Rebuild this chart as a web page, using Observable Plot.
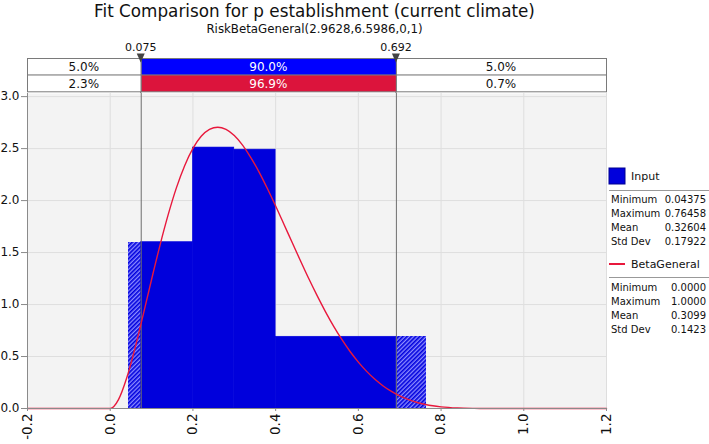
<!DOCTYPE html>
<html><head><meta charset="utf-8">
<script src="https://cdn.jsdelivr.net/npm/d3@7"></script>
<script src="https://cdn.jsdelivr.net/npm/@observablehq/plot@0.6"></script>
<style>html,body{margin:0;padding:0;background:#fff;} svg{display:block;}</style>
</head><body>
<script>
// ---------- data ----------
const chartTitle = "Fit Comparison for p establishment (current climate)";
const chartSubtitle = "RiskBetaGeneral(2.9628,6.5986,0,1)";
const xTicks = [-0.2, 0, 0.2, 0.4, 0.6, 0.8, 1.0, 1.2];
const yTicks = [0, 0.5, 1.0, 1.5, 2.0, 2.5, 3.0];

// histogram of the input (density)
const binLo = [0.04375, 0.2, 0.3, 0.4];
const binHi = [0.2, 0.3, 0.4, 0.76458];
const binDensity = [1.6, 2.51, 2.49, 0.69];

// delimiters
const lowerCut = 0.075;
const upperCut = 0.692;

// probability band rows (Input, BetaGeneral)
const bandLeft = ["5.0%", "2.3%"];
const bandMid = ["90.0%", "96.9%"];
const bandRight = ["5.0%", "0.7%"];

// fitted BetaGeneral density
const curveX = [-0.2, 0, 0.02, 0.04, 0.06, 0.08, 0.10, 0.12, 0.14, 0.16, 0.18, 0.20, 0.22, 0.24, 0.26, 0.28, 0.30, 0.32, 0.34, 0.36, 0.38, 0.40, 0.42, 0.44, 0.46, 0.48, 0.50, 0.52, 0.54, 0.56, 0.58, 0.60, 0.62, 0.64, 0.66, 0.68, 0.70, 0.72, 0.74, 0.76, 0.78, 0.80, 0.84, 0.88, 0.92, 1.0, 1.2];
const curveY = [0, 0, 0.085, 0.295, 0.581, 0.906, 1.241, 1.565, 1.862, 2.122, 2.336, 2.502, 2.618, 2.685, 2.706, 2.684, 2.625, 2.533, 2.414, 2.274, 2.116, 1.948, 1.773, 1.596, 1.421, 1.250, 1.088, 0.935, 0.793, 0.664, 0.548, 0.446, 0.357, 0.281, 0.217, 0.164, 0.121, 0.087, 0.060, 0.041, 0.026, 0.016, 0.005, 0.0013, 0.0002, 0, 0];

// legend
const legendSeries = ["Input", "BetaGeneral"];
const statNames = ["Minimum", "Maximum", "Mean", "Std Dev"];
const inputStats = ["0.04375", "0.76458", "0.32604", "0.17922"];
const fitStats = ["0.0000", "1.0000", "0.3099", "0.1423"];

// ---------- styles ----------
const FONT = "'DejaVu Sans', Verdana, sans-serif";
const C = {
  bar: "#0000dc", band1: "#0000ff", band2: "#dc143c", curve: "#e8183c",
  bg: "#f3f3f3", grid: "#dedede", axis: "#8a8a8a", cut: "#6e6e6e", border: "#7a7a7a"
};
const fmt1 = d => d.toFixed(1);

// ---------- derived tables ----------
const bins = binLo.map((lo, i) => ({lo, hi: binHi[i], h: binDensity[i]}));
const solid = [], hatched = [];
for (const b of bins) {
  const a = Math.max(b.lo, lowerCut), z = Math.min(b.hi, upperCut);
  if (a < z) solid.push({lo: a, hi: z, h: b.h});
  if (b.lo < lowerCut) hatched.push({lo: b.lo, hi: Math.min(b.hi, lowerCut), h: b.h});
  if (b.hi > upperCut) hatched.push({lo: Math.max(b.lo, upperCut), hi: b.hi, h: b.h});
}
const curve = curveX.map((x, i) => ({x, y: curveY[i]}));

const W = 709, H = 444;
const svg = Plot.plot({
  width: W, height: H,
  marginLeft: 27, marginRight: 103, marginTop: 93, marginBottom: 36,
  style: {fontFamily: FONT, fontSize: "13px", background: "#fff", color: "#111"},
  x: {domain: [-0.2, 1.2]},
  y: {domain: [0, 3.03]},
  marks: [
    Plot.frame({fill: C.bg, stroke: null}),
    Plot.gridX(xTicks, {stroke: C.grid, strokeOpacity: 1}),
    Plot.gridY(yTicks, {stroke: C.grid, strokeOpacity: 1}),
    Plot.rect(hatched, {x1: "lo", x2: "hi", y1: 0, y2: "h", fill: "url(#hatch)", shapeRendering: "crispEdges"}),
    Plot.rect(solid, {x1: "lo", x2: "hi", y1: 0, y2: "h", fill: C.bar, stroke: C.bar, strokeWidth: 0.6}),
    Plot.ruleX([lowerCut, upperCut], {stroke: C.cut, strokeWidth: 1}),
    Plot.line(curve, {x: "x", y: "y", stroke: C.curve, strokeWidth: 1.4, curve: "monotone-x"}),
    Plot.ruleX([-0.2], {stroke: C.axis}),
    Plot.ruleY([0], {stroke: C.axis}),
    Plot.axisX({ticks: xTicks, tickFormat: fmt1, tickRotate: -90, tickSize: 3, tickPadding: 2, stroke: C.axis, fontSize: 13.5, label: null}),
    Plot.axisY({ticks: yTicks, tickFormat: fmt1, tickSize: 6, tickPadding: 2, stroke: C.axis, fontSize: 12, label: null})
  ]
});
document.body.append(svg);

const sx = svg.scale("x");
const X = v => sx.apply(v);
const [xL, xR] = sx.range;
const root = d3.select(svg);

// hatch pattern
const defs = root.insert("defs", ":first-child");
const pat = defs.append("pattern").attr("id", "hatch").attr("patternUnits", "userSpaceOnUse")
  .attr("width", 3).attr("height", 3).attr("patternTransform", "rotate(45)");
pat.append("rect").attr("width", 3).attr("height", 3).attr("fill", "#8c8cff");
pat.append("line").attr("x1", 0.8).attr("y1", 0).attr("x2", 0.8).attr("y2", 3)
  .attr("stroke", "#0000dd").attr("stroke-width", 1.7);

// title + subtitle
const cx = (xL + xR) / 2 - 2;
root.append("text").attr("x", cx).attr("y", 17).attr("text-anchor", "middle")
  .attr("font-size", "16.8px").attr("fill", "#111").text(chartTitle);
root.append("text").attr("x", cx).attr("y", 33).attr("text-anchor", "middle")
  .attr("font-size", "11.8px").attr("fill", "#111").text(chartSubtitle);

// band
const rowTop = [58.5, 75];
const rowH = 16.8;
const g = root.append("g");
const cuts = [lowerCut, upperCut];
g.selectAll("line.cutext").data(cuts).join("line")
  .attr("x1", d => X(d)).attr("x2", d => X(d)).attr("y1", 58).attr("y2", 93)
  .attr("stroke", C.cut);
[0, 1].forEach(r => {
  const cells = [
    {a: xL, b: X(lowerCut), fill: "#fff", txt: bandLeft[r], col: "#111"},
    {a: X(lowerCut), b: X(upperCut), fill: r === 0 ? C.band1 : C.band2, txt: bandMid[r], col: "#fff"},
    {a: X(upperCut), b: xR, fill: "#fff", txt: bandRight[r], col: "#111"}
  ];
  for (const c of cells) {
    g.append("rect").attr("x", c.a + 0.5).attr("y", rowTop[r]).attr("width", c.b - c.a)
      .attr("height", rowH).attr("fill", c.fill).attr("stroke", C.border).attr("stroke-width", 1);
    g.append("text").attr("x", (c.a + c.b) / 2).attr("y", rowTop[r] + rowH / 2 + 4.3)
      .attr("text-anchor", "middle").attr("font-size", "12px").attr("fill", c.col).text(c.txt);
  }
});
// cut markers
for (const v of cuts) {
  const x = X(v);
  root.append("text").attr("x", x).attr("y", 50.5).attr("text-anchor", "middle")
    .attr("font-size", "11px").attr("fill", "#111").text(d3.format(".3f")(v));
  root.append("path").attr("d", `M${x - 4},53.5L${x + 4},53.5L${x},62.5Z`).attr("fill", "#444");
}

// legend
const lg = root.append("g").attr("font-size", "10px").attr("fill", "#111").attr("text-anchor", "start");
const LX = 609, VX = 706;
lg.append("rect").attr("x", LX).attr("y", 168).attr("width", 16).attr("height", 16)
  .attr("fill", C.bar).attr("stroke", "#000090");
lg.append("text").attr("x", 631).attr("y", 180).attr("font-size", "11px").text(legendSeries[0]);
lg.append("line").attr("x1", LX).attr("x2", 709).attr("y1", 190.5).attr("y2", 190.5).attr("stroke", "#999");
const rowY1 = [203, 217, 231, 245];
statNames.forEach((s, i) => {
  lg.append("text").attr("x", 611).attr("y", rowY1[i]).text(s);
  lg.append("text").attr("x", VX).attr("y", rowY1[i]).attr("text-anchor", "end").text(inputStats[i]);
});
lg.append("line").attr("x1", LX).attr("x2", 625).attr("y1", 264).attr("y2", 264)
  .attr("stroke", C.curve).attr("stroke-width", 2);
lg.append("text").attr("x", 631).attr("y", 268).attr("font-size", "11px").text(legendSeries[1]);
lg.append("line").attr("x1", LX).attr("x2", 709).attr("y1", 277.5).attr("y2", 277.5).attr("stroke", "#999");
const rowY2 = [291, 305, 319, 333];
statNames.forEach((s, i) => {
  lg.append("text").attr("x", 611).attr("y", rowY2[i]).text(s);
  lg.append("text").attr("x", VX).attr("y", rowY2[i]).attr("text-anchor", "end").text(fitStats[i]);
});
</script>
</body></html>
